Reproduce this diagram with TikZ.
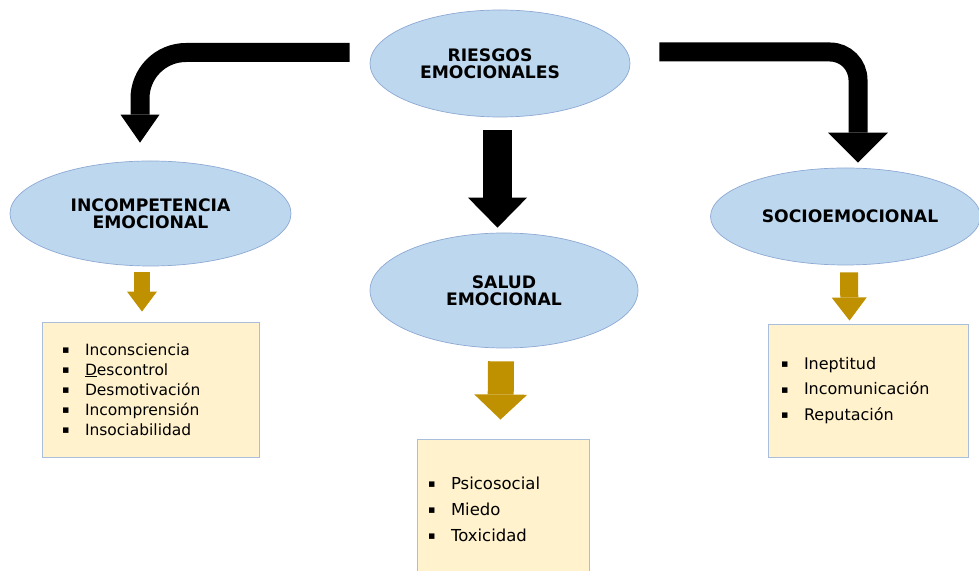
\documentclass[tikz,border=0pt]{standalone}
\usepackage{fontspec}
\setmainfont{DejaVu Sans}
\usetikzlibrary{shapes.geometric,arrows.meta}

\definecolor{ellfill}{HTML}{BDD7EE}
\definecolor{elldraw}{HTML}{8DA9D4}
\definecolor{boxfill}{HTML}{FFF2CC}
\definecolor{boxdraw}{HTML}{A8BEDA}
\definecolor{gold}{HTML}{BF9000}

% small square bullet followed by a fixed gap before the item text
\newcommand{\blt}{\makebox[24pt][l]{\hspace{1pt}\raisebox{1.8pt}{\fontsize{11}{11}\selectfont ▪}}}

\tikzset{
  topic/.style={ellipse, fill=ellfill, draw=elldraw, line width=0.7pt,
    inner sep=0pt, align=center,
    font=\fontsize{17.2}{17.5}\selectfont\bfseries},
  listbox/.style={rectangle, fill=boxfill, draw=boxdraw, line width=0.9pt,
    inner ysep=0pt, align=left},
  bigarrow/.style={line width=#1, draw=black},
  goldarrow/.style={line width=#1, draw=gold},
}

\begin{document}
\begin{tikzpicture}[x=1pt,y=1pt]
\useasboundingbox (0,0) rectangle (979,570);

% topic ellipses
\node[topic, minimum width=260pt, minimum height=107pt] (riesgos) at (500,506.5)
  {RIESGOS\hspace*{20pt}\\EMOCIONALES\hspace*{20pt}};
\node[topic, minimum width=281pt, minimum height=105pt] (incomp) at (150.5,356.5)
  {INCOMPETENCIA\\EMOCIONAL};
\node[topic, minimum width=268pt, minimum height=115pt] (salud) at (504,279.5)
  {SALUD\\EMOCIONAL};
\node[topic, minimum width=270pt, minimum height=97pt] (socio) at (845.5,353.5)
  {\hspace*{9pt}SOCIOEMOCIONAL};

% item boxes
\node[listbox, minimum width=217pt, minimum height=135pt, text width=179pt,
  inner xsep=19pt, font=\fontsize{15.5}{20}\selectfont] (boxL) at (150.5,180.5)
  {\blt Inconsciencia\\ \blt \underline{D}escontrol\\ \blt Desmotivación\\
   \blt Incomprensión\\ \blt Insociabilidad};
\node[listbox, minimum width=172pt, minimum height=140pt, text width=152pt,
  inner xsep=10pt, font=\fontsize{16.5}{26}\selectfont] (boxM) at (503,61)
  {\blt Psicosocial\\ \blt Miedo\\ \blt Toxicidad};
\node[listbox, minimum width=200pt, minimum height=133pt, text width=176pt,
  inner xsep=12pt, font=\fontsize{16}{25.5}\selectfont] (boxR) at (868,179.5)
  {\blt Ineptitud\\ \blt Incomunicación\\ \blt Reputación};

% black arrows from the main topic
\draw[bigarrow=19pt, rounded corners=46pt,
  -{Triangle[width=39pt,length=28pt,line width=0pt]}]
  ([shift={(-20pt,11pt)}]riesgos.west) -| ([shift={(-10.5pt,18pt)}]incomp.north);
\draw[bigarrow=29pt, -{Triangle[width=59pt,length=30pt,line width=0pt]}]
  ([shift={(-2.5pt,-13pt)}]riesgos.south) -- ([shift={(-6.5pt,5pt)}]salud.north);
\draw[bigarrow=19pt, rounded corners=28pt,
  -{Triangle[width=60pt,length=30pt,line width=0pt]}]
  ([shift={(29pt,11.5pt)}]riesgos.east) -| ([shift={(12.5pt,5pt)}]socio.north);

% gold arrows to the item boxes
\draw[goldarrow=16pt, -{Triangle[width=30pt,length=20pt,line width=0pt]}]
  ([shift={(-8.5pt,-6pt)}]incomp.south) -- ([shift={(-8.5pt,10pt)}]boxL.north);
\draw[goldarrow=26pt, -{Triangle[width=53pt,length=25pt,line width=0pt]}]
  ([shift={(-3pt,-13pt)}]salud.south) -- ([shift={(-2.5pt,19pt)}]boxM.north);
\draw[goldarrow=18pt, -{Triangle[width=35pt,length=23pt,line width=0pt]}]
  ([shift={(3.5pt,-7pt)}]socio.south) -- ([shift={(-18.5pt,3pt)}]boxR.north);
\end{tikzpicture}
\end{document}
